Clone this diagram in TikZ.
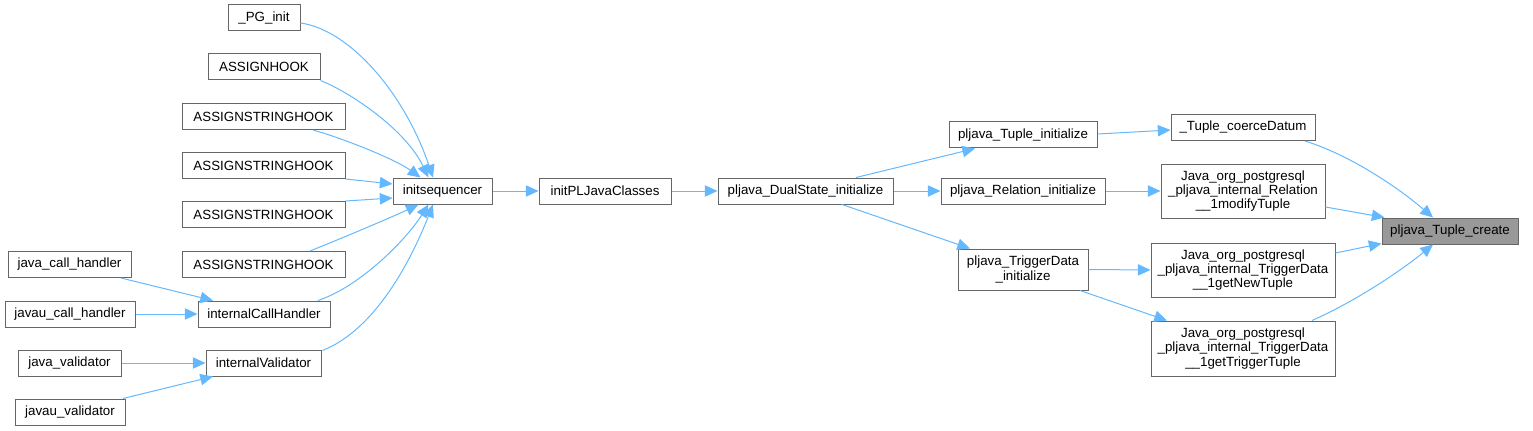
\documentclass[tikz,border=0pt]{standalone}
\usepackage{fontspec}
\setmainfont{Liberation Sans}
\usetikzlibrary{arrows.meta,calc}
\definecolor{edgec}{HTML}{63B8FF}
\definecolor{boxc}{HTML}{666666}
\definecolor{hlc}{HTML}{999999}
\begin{document}
\begin{tikzpicture}[x=0.75pt,y=-0.75pt,
  fn/.style={draw=boxc, fill=white, line width=0.75pt, inner sep=0pt, minimum height=19.5pt, font=\fontsize{10}{10.75}\selectfont, align=center},
  hl/.style={fn, fill=hlc},
  call/.style={draw=edgec, line width=0.75pt, -{Triangle[length=9.5pt,width=8.5pt]}}
]
\useasboundingbox (0,0) rectangle (1533,431);
% left column
\node[fn, minimum width=54pt] (pg) at (264,18) {\_PG\_init};
\node[fn, minimum width=84pt] (ah) at (264,67) {ASSIGNHOOK};
\node[fn, minimum width=122.25pt] (as1) at (263.5,116.5) {ASSIGNSTRINGHOOK};
\node[fn, minimum width=122.25pt] (as2) at (263.5,165.5) {ASSIGNSTRINGHOOK};
\node[fn, minimum width=122.25pt] (as3) at (263.5,214.5) {ASSIGNSTRINGHOOK};
\node[fn, minimum width=122.25pt] (as4) at (263.5,264.5) {ASSIGNSTRINGHOOK};
\node[fn, minimum width=92.25pt] (jch) at (69.5,264.5) {java\_call\_handler};
\node[fn, minimum width=97.5pt] (jauch) at (70,314) {javau\_call\_handler};
\node[fn, minimum width=99pt] (ich) at (264,314) {internalCallHandler};
\node[fn, minimum width=77.25pt] (jv) at (69.5,363) {java\_validator};
\node[fn, minimum width=86.25pt] (iv) at (263.5,363) {internalValidator};
\node[fn, minimum width=82.5pt] (jav) at (70,412) {javau\_validator};
% middle
\node[fn, minimum width=74.25pt] (is) at (442.5,191) {initsequencer};
\node[fn, minimum width=99pt] (ipl) at (605,191) {initPLJavaClasses};
\node[fn, minimum width=131.25pt] (pds) at (805.5,191) {pljava\_DualState\_initialize};
\node[fn, minimum width=111pt] (pti) at (1023,135) {pljava\_Tuple\_initialize};
\node[fn, minimum width=123pt] (pri) at (1023,191) {pljava\_Relation\_initialize};
\node[fn, minimum width=97.5pt, minimum height=30.75pt] (ptd) at (1023,269.5) {pljava\_TriggerData\\\_initialize};
% right
\node[fn, minimum width=108pt] (tcd) at (1243,127.5) {\_Tuple\_coerceDatum};
\node[fn, minimum width=123pt, minimum height=40.5pt] (jrel) at (1243,191) {Java\_org\_postgresql\\\_pljava\_internal\_Relation\\\_\_1modifyTuple};
\node[fn, minimum width=138pt, minimum height=40.5pt] (jnew) at (1243,270) {Java\_org\_postgresql\\\_pljava\_internal\_TriggerData\\\_\_1getNewTuple};
\node[fn, minimum width=138pt, minimum height=41.25pt] (jtrig) at (1243,348.5) {Java\_org\_postgresql\\\_pljava\_internal\_TriggerData\\\_\_1getTriggerTuple};
\node[hl, minimum width=102pt] (ptc) at (1450,231) {pljava\_Tuple\_create};
% edges into initsequencer
\draw[call] ($(pg.east)+(0,5)$) .. controls +(50,7) and +(-28,-83) .. ($(is.north)+(-9.5,0)$);
\draw[call] (ah.south east) .. controls +(30,12) and +(-23,-48) .. ($(is.north)+(-14,0)$);
\draw[call] ($(as1.south)+(49.5,0)$) .. controls +(32,9) and +(-25,-18) .. ($(is.north)+(-22,0)$);
\draw[call] ($(as2.south east)$) -- ($(is.west)+(0,-7)$);
\draw[call] ($(as3.north east)$) -- ($(is.west)+(0,7)$);
\draw[call] ($(as4.north)+(46.5,0)$) .. controls +(35,-14) and +(-23,11) .. ($(is.south)+(-24,0)$);
\draw[call] ($(ich.north)+(54,0)$) .. controls +(42,-14) and +(-23,36) .. ($(is.south)+(-14,0)$);
\draw[call] ($(iv.north east)+(1,1)$) .. controls +(53,-21) and +(-22,56) .. ($(is.south)+(-9.5,0)$);
% left small edges
\draw[call] ($(jch.south)+(51.5,0)$) -- ($(ich.north)+(-51,0)$);
\draw[call] (jauch.east) -- (ich.west);
\draw[call] (jv.east) -- (iv.west);
\draw[call] ($(jav.north)+(53,0)$) -- ($(iv.south)+(-50.5,0)$);
% chain
\draw[call] (is.east) -- (ipl.west);
\draw[call] (ipl.east) -- (pds.west);
\draw[call] ($(pds.north)+(50.5,0)$) -- ($(pti.south)+(-48,0)$);
\draw[call] (pds.east) -- (pri.west);
\draw[call] ($(pds.south)+(36.5,0)$) -- ($(ptd.north)+(-53,0)$);
\draw[call] ($(pti.east)+(0,-1)$) -- ($(tcd.west)+(0,2.5)$);
\draw[call] (pri.east) -- (jrel.west);
\draw[call] (ptd.east) -- (jnew.west);
\draw[call] ($(ptd.south)+(57,0)$) -- ($(jtrig.north)+(-76,0)$);
% into pljava_Tuple_create
\draw[call] ($(tcd.south)+(62,0)$) .. controls +(45,14) and +(-35,-30) .. ($(ptc.north)+(-17,0)$);
\draw[call] ($(jrel.east)+(0,16)$) -- ($(ptc.north west)+(3,0)$);
\draw[call] ($(jnew.east)+(0,-17)$) -- ($(ptc.south west)+(0,-1)$);
\draw[call] ($(jtrig.north)+(69,0)$) .. controls +(43,-19) and +(-33,27) .. ($(ptc.south)+(-17,0)$);
\end{tikzpicture}
\end{document}
